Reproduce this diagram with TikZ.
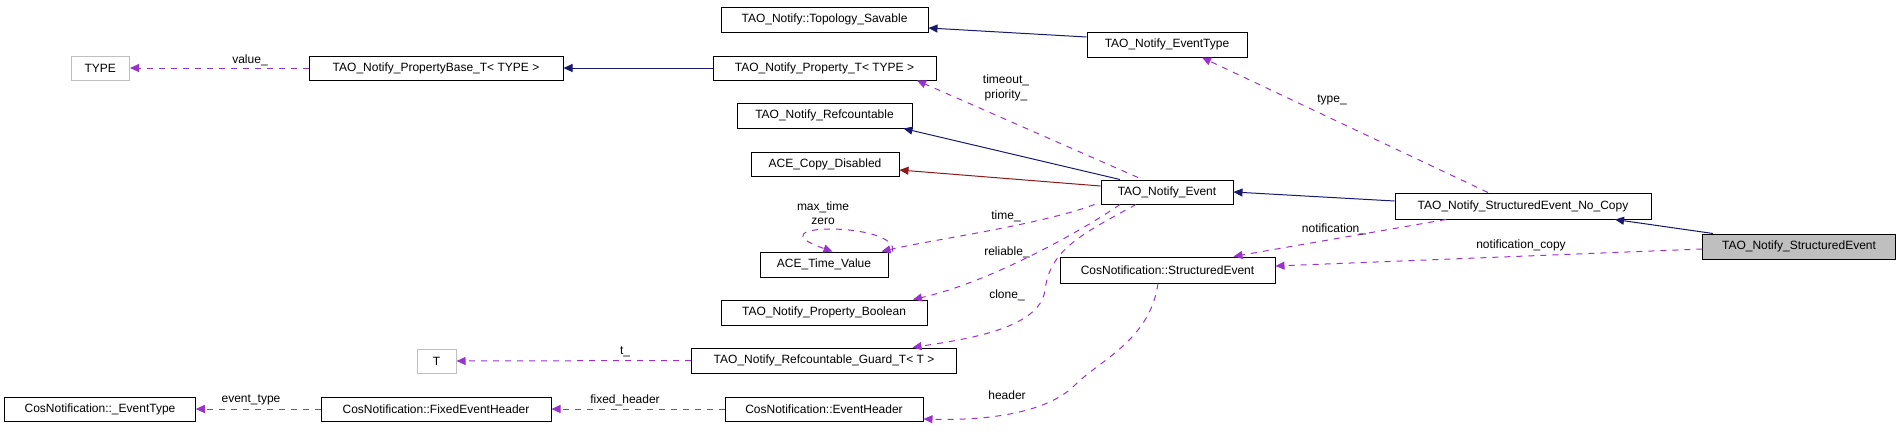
\documentclass[tikz,border=0pt]{standalone}
\usepackage{fontspec}
\setmainfont{Liberation Sans}
\usetikzlibrary{arrows.meta}
\definecolor{inh}{HTML}{191970}
\definecolor{usage}{HTML}{9A32CD}
\definecolor{priv}{HTML}{8B1A1A}
\definecolor{grayb}{HTML}{BFBFBF}
\tikzset{
  box/.style={draw=black, line width=1pt, inner sep=0pt, minimum height=24pt, font=\fontsize{12}{14}\selectfont},
  gbox/.style={box, draw=grayb},
  inhe/.style={draw=inh, line width=1pt, -{Triangle[length=9pt,width=8pt]}},
  prive/.style={draw=priv, line width=1pt, -{Triangle[length=9pt,width=8pt]}},
  use/.style={draw=usage, line width=1pt, dash pattern=on 6pt off 6pt, -{Triangle[length=9pt,width=8pt]}},
  lbl/.style={font=\fontsize{12}{14}\selectfont, inner sep=0pt}
}
\begin{document}
\begin{tikzpicture}[x=1pt,y=1pt]
\useasboundingbox (0,0) rectangle (1901,-437);
% nodes
\node[gbox, minimum width=58.5pt] (type) at (100.25,-68) {TYPE};
\node[box, minimum width=254pt] (pb) at (436,-68) {TAO\_Notify\_PropertyBase\_T< TYPE >};
\node[box, minimum width=223pt] (pt) at (824.5,-68) {TAO\_Notify\_Property\_T< TYPE >};
\node[box, minimum width=207pt, minimum height=25pt] (top) at (824.5,-19.5) {TAO\_Notify::Topology\_Savable};
\node[box, minimum width=160pt, minimum height=25pt] (et) at (1167,-44.5) {TAO\_Notify\_EventType};
\node[box, minimum width=175pt, minimum height=25pt] (ref) at (824.5,-115.5) {TAO\_Notify\_Refcountable};
\node[box, minimum width=148pt] (acd) at (825,-164) {ACE\_Copy\_Disabled};
\node[box, minimum width=132pt] (ev) at (1167,-192) {TAO\_Notify\_Event};
\node[box, minimum width=256pt, minimum height=26pt] (nc) at (1523,-206) {TAO\_Notify\_StructuredEvent\_No\_Copy};
\node[box, fill=grayb, minimum width=192.5pt, minimum height=25pt] (se) at (1799,-246.5) {TAO\_Notify\_StructuredEvent};
\node[box, minimum width=215pt, minimum height=26pt] (cse) at (1167.5,-270) {CosNotification::StructuredEvent};
\node[box, minimum width=128pt, minimum height=25pt] (atv) at (824,-264.5) {ACE\_Time\_Value};
\node[box, minimum width=206pt, minimum height=25pt] (pbool) at (824,-312.5) {TAO\_Notify\_Property\_Boolean};
\node[box, minimum width=265pt, minimum height=25pt] (guard) at (824,-360.5) {TAO\_Notify\_Refcountable\_Guard\_T< T >};
\node[box, minimum width=198pt] (eh) at (824,-409) {CosNotification::EventHeader};
\node[box, minimum width=230pt] (feh) at (436,-409) {CosNotification::FixedEventHeader};
\node[box, minimum width=190.5pt] (evt) at (100,-409) {CosNotification::\_EventType};
\node[gbox, minimum width=39pt] (t) at (436.5,-361) {T};
% inheritance
\draw[inhe] (pt.west) -- (pb.east);
\draw[inhe] ([yshift=7.5pt]et.west) -- ([yshift=-8.5pt]top.east);
\draw[inhe] ([xshift=-47pt]ev.north) -- ([xshift=79pt]ref.south);
\draw[prive] ([yshift=6pt]ev.west) -- ([yshift=-6pt]acd.east);
\draw[inhe] ([yshift=5pt]nc.west) -- (ev.east);
\draw[inhe] ([xshift=-86pt]se.north) -- ([xshift=92pt]nc.south);
% usage
\draw[use] ([yshift=-2.5pt]se.west) -- ([yshift=4pt]cse.east);
\draw[use] ([xshift=-77pt]nc.south) -- ([xshift=66pt]cse.north);
\draw[use] ([xshift=-35pt]nc.north) -- ([xshift=35pt]et.south);
\draw[use] ([xshift=-29pt,yshift=2pt]ev.north) -- ([xshift=92.5pt]pt.south);
\draw[use] ([xshift=-6pt]ev.south west) .. controls (1040,-225) and (930,-240) .. ([xshift=-7pt]atv.north east);
\draw[use] ([xshift=4pt]atv.north east) .. controls (900,-222) and (748,-222) .. ([xshift=-56pt]atv.north east);
\draw[use] ([xshift=-47pt]ev.south) .. controls (1080,-232) and (990,-282) .. ([xshift=-14.5pt]pbool.north east);
\draw[use] ([xshift=-31pt]ev.south) .. controls (1080,-235) and (1050,-250) .. (1045,-290) .. controls (1040,-330) and (960,-340) .. ([xshift=-44.5pt]guard.north east);
\draw[use] (guard.west) -- (t.east);
\draw[use] ([xshift=-9.5pt]cse.south) .. controls (1150,-340) and (1100,-360) .. (1075,-385) .. controls (1040,-420) and (960,-420) .. ([yshift=-10pt]eh.east);
\draw[use] (eh.west) -- (feh.east);
\draw[use] (feh.west) -- (evt.east);
\draw[use] (pb.west) -- (type.east);
% labels
\node[lbl] (l1) at (250,-60) {value\_};
\node[lbl] (l2) at (1006,-80) {timeout\_};
\node[lbl] (l3) at (1006,-95) {priority\_};
\node[lbl] (l4) at (1332,-100) {type\_};
\node[lbl] (l5) at (823,-207) {max\_time};
\node[lbl] (l6) at (823,-221) {zero};
\node[lbl] (l7) at (1006,-216) {time\_};
\node[lbl] (l8) at (1007,-252) {reliable\_};
\node[lbl] (l9) at (1007,-295) {clone\_};
\node[lbl] (l10) at (1334,-229) {notification\_};
\node[lbl] (l11) at (1521,-245) {notification\_copy};
\node[lbl] (l12) at (625,-352) {t\_};
\node[lbl] (l13) at (1007,-395) {header};
\node[lbl] (l14) at (251,-400) {event\_type};
\node[lbl] (l15) at (625,-400) {fixed\_header};
\end{tikzpicture}
\end{document}
